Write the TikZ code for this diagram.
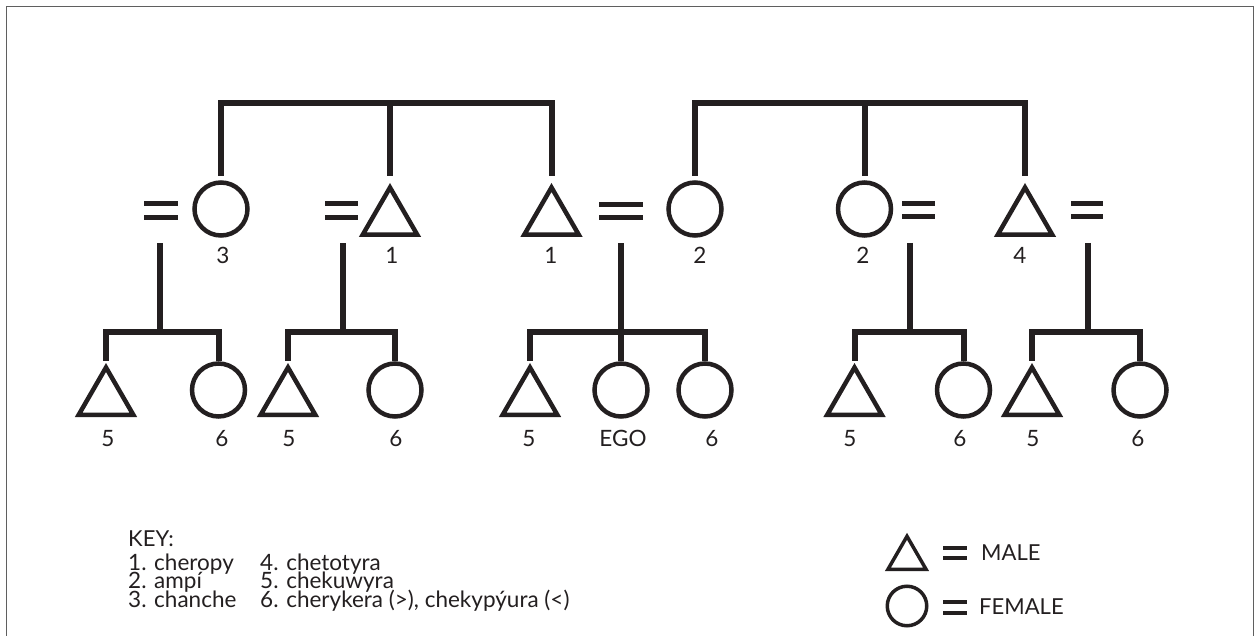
\documentclass[tikz,border=0pt]{standalone}
\usepackage{fontspec}
\setmainfont{Lato}
\usetikzlibrary{shapes.geometric}
\definecolor{ink}{RGB}{35,31,32}
\definecolor{frame}{RGB}{95,95,95}
\newcommand{\tightlines}{\lineskiplimit=-40pt\relax}
\begin{document}
\begin{tikzpicture}[x=1pt,y=-1pt,
  kin/.style={draw=ink, line width=6pt, line join=miter, line cap=butt},
  fem/.style={circle, draw=ink, line width=4.5pt, minimum size=53pt, inner sep=0pt, outer sep=0pt},
  mal/.style={regular polygon, regular polygon sides=3, draw=ink, line width=4.5pt, line join=miter, minimum size=63pt, inner sep=0pt, outer sep=0pt},
  eqs/.style={rectangle, inner sep=0pt, outer sep=0pt, minimum height=14pt},
  eqline/.style={draw=ink, line width=5pt, line cap=butt},
  lbl/.style={font=\fontsize{22.5}{22.5}\selectfont, text=ink, inner sep=0pt, anchor=base},
  keytxt/.style={font=\fontsize{22}{22}\selectfont, text=ink, inner sep=0pt, anchor=base west},
  keyblock/.style={font=\fontsize{22.5}{18.5}\selectfont\tightlines, text=ink, inner sep=0pt, align=left, anchor=base west},
  lgfem/.style={circle, draw=ink, line width=3.5pt, minimum size=39.5pt, inner sep=0pt, outer sep=0pt},
  lgmal/.style={regular polygon, regular polygon sides=3, draw=ink, line width=3.5pt, line join=miter, minimum size=44pt, inner sep=0pt, outer sep=0pt},
  lgeq/.style={draw=ink, line width=3.5pt, line cap=butt}]
\useasboundingbox (0,0) rectangle (1255,636);
% frame
\draw[frame, line width=1.8pt] (6.5,636) -- (6.5,6.5) -- (1253.5,6.5) -- (1253.5,636);

% ---- parent generation ----
\node[fem] (f3) at (221,209) {};
\node[mal] (m1a) at (390,219) {};
\node[mal] (m1b) at (551.5,219) {};
\node[fem] (f2a) at (695,209) {};
\node[fem] (f2b) at (864.5,209) {};
\node[mal] (m4) at (1025,219) {};

\coordinate (sL) at (390,103);
\coordinate (sR) at (864.5,103);

% marriage signs
\node[eqs, minimum width=34pt] (eA) at (161,210.5) {};
\node[eqs, minimum width=33pt] (eB) at (341.5,210.5) {};
\node[eqs, minimum width=44pt, minimum height=13pt] (eC) at (621,210.8) {};
\node[eqs, minimum width=33pt, minimum height=13pt] (eD) at (918.5,210.5) {};
\node[eqs, minimum width=32pt, minimum height=13pt] (eE) at (1087,210.5) {};
\foreach \e in {eA,eB,eC,eD,eE}{
  \draw[eqline] (\e.north west) -- (\e.north east) (\e.south west) -- (\e.south east);
}

% sibling bars (top)
\draw[kin] ([yshift=6.5pt]f3.north) -- (f3.north |- sL) -- (m1b.north |- sL) -- ([yshift=11.5pt]m1b.north);
\draw[kin] (sL) -- ([yshift=11.5pt]m1a.north);
\draw[kin] ([yshift=6.5pt]f2a.north) -- (f2a.north |- sR) -- (m4.north |- sR) -- ([yshift=11.5pt]m4.north);
\draw[kin] (sR) -- ([yshift=6.5pt]f2b.north);

% top labels
\node[lbl] (l3) at (223,264) {3};
\node[lbl] (l1a) at (392,264) {1};
\node[lbl] (l1b) at (551,264) {1};
\node[lbl] (l2a) at (700,264) {2};
\node[lbl] (l2b) at (863,264) {2};
\node[lbl] (l4) at (1020,264) {4};

% ---- children ----
\coordinate (jA) at (160,332);
\coordinate (jB) at (342.5,332);
\coordinate (jC) at (621,332);
\coordinate (jD) at (910,332);
\coordinate (jE) at (1088,332);

\node[mal] (tA) at (106,399) {};
\node[fem] (cA) at (218.5,390) {};
\node[mal] (tB) at (288,399) {};
\node[fem] (cB) at (395,390) {};
\node[mal] (tC) at (530,399) {};
\node[fem] (ego) at (621,390) {};
\node[fem] (cC) at (705,390) {};
\node[mal] (tD) at (854.5,399) {};
\node[fem] (cD) at (963.5,390) {};
\node[mal] (tE) at (1032,399) {};
\node[fem] (cE) at (1140,390) {};

\foreach \j/\e/\t/\c in {jA/eA/tA/cA, jB/eB/tB/cB, jC/eC/tC/cC, jD/eD/tD/cD, jE/eE/tE/cE}{
  \draw[kin] ([yshift=-26pt]\j |- \e.south) -- (\j);
  \draw[kin] ([yshift=6.5pt]\t.north) -- (\t.north |- \j) -- (\c.north |- \j) -- ([yshift=2.5pt]\c.north);
}
\draw[kin] (jC) -- ([yshift=2.5pt]ego.north);

% child labels
\node[lbl] (lA5) at (108,446) {5};
\node[lbl] (lA6) at (222,446) {6};
\node[lbl] (lB5) at (289,446) {5};
\node[lbl] (lB6) at (396,446) {6};
\node[lbl] (lC5) at (529,446) {5};
\node[lbl] (lego) at (623,446) {EGO};
\node[lbl] (lC6) at (712,446) {6};
\node[lbl] (lD5) at (850,446) {5};
\node[lbl] (lD6) at (960,446) {6};
\node[lbl] (lE5) at (1033,446) {5};
\node[lbl] (lE6) at (1138,446) {6};

% ---- key ----
\node[keytxt] (key) at (128,546) {KEY:};
\node[keyblock] (keylist) at (128,607) {\makebox[132pt][l]{1. cheropy}4. chetotyra\\
\makebox[132pt][l]{2. ampí}5. chekuwyra\\
\makebox[132pt][l]{3. chanche}6. cherykera (>), chekypýura (<)};

% legend
\node[lgmal] (lgM) at (907,558.3) {};
\node[lgfem] (lgF) at (907,606) {};
\node[eqs, minimum width=24pt, minimum height=10pt] (qM) at (955,553) {};
\node[eqs, minimum width=24pt, minimum height=11pt] (qF) at (955,607.5) {};
\foreach \e in {qM,qF}{
  \draw[lgeq] (\e.north west) -- (\e.north east) (\e.south west) -- (\e.south east);
}
\node[keytxt] (male) at (981,560) {MALE};
\node[keytxt] (female) at (979,614) {FEMALE};
\end{tikzpicture}
\end{document}
